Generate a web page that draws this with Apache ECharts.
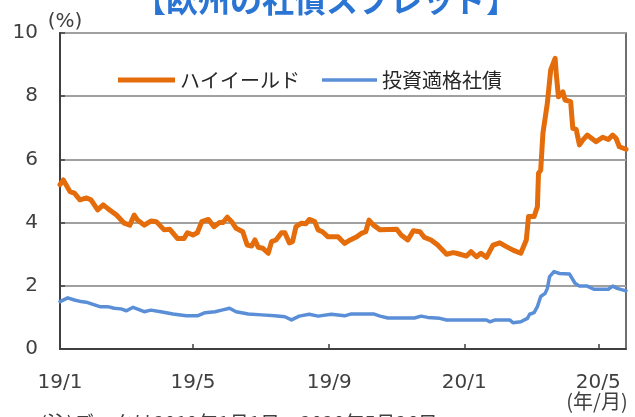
<!DOCTYPE html>
<html>
<head>
<meta charset="utf-8">
<script src="https://cdn.jsdelivr.net/npm/echarts@6/dist/echarts.min.js"></script>
<style>
  html, body { margin: 0; padding: 0; background: #fff; }
  #main { width: 635px; height: 417px; }
</style>
</head>
<body>
<div id="main"></div>
<script>
// ハイイールド（%）
var hyDates = ['2019-01-01','2019-01-04','2019-01-10','2019-01-14','2019-01-19','2019-01-25','2019-01-29',
  '2019-02-04','2019-02-09','2019-02-13','2019-02-21','2019-02-28','2019-03-05','2019-03-09','2019-03-12',
  '2019-03-18','2019-03-24','2019-03-29','2019-04-05','2019-04-10','2019-04-17','2019-04-23','2019-04-26',
  '2019-05-01','2019-05-05','2019-05-09','2019-05-15','2019-05-20','2019-05-25','2019-05-28','2019-06-01',
  '2019-06-05','2019-06-09','2019-06-15','2019-06-19','2019-06-23','2019-06-26','2019-06-29','2019-07-03',
  '2019-07-08','2019-07-11','2019-07-15','2019-07-20','2019-07-23','2019-07-27','2019-07-30','2019-08-02',
  '2019-08-07','2019-08-11','2019-08-14','2019-08-19','2019-08-22','2019-08-26','2019-08-31','2019-09-09',
  '2019-09-15','2019-09-20','2019-09-26','2019-09-30','2019-10-04','2019-10-07','2019-10-11','2019-10-17',
  '2019-11-01','2019-11-05','2019-11-11','2019-11-16','2019-11-22','2019-11-26','2019-12-02','2019-12-08',
  '2019-12-16','2019-12-22','2019-12-25','2020-01-03','2020-01-07','2020-01-12','2020-01-16','2020-01-21',
  '2020-01-27','2020-02-02','2020-02-08','2020-02-14','2020-02-21','2020-02-26','2020-02-28','2020-03-04',
  '2020-03-07','2020-03-08','2020-03-10','2020-03-12','2020-03-16','2020-03-19','2020-03-23','2020-03-24',
  '2020-03-26','2020-03-30','2020-04-01','2020-04-06','2020-04-08','2020-04-11','2020-04-14','2020-04-17',
  '2020-04-21','2020-04-29','2020-05-05','2020-05-10','2020-05-14','2020-05-17','2020-05-20','2020-05-26'];
var hyValues = [5.2,5.35,4.98,4.93,4.72,4.78,4.72,
  4.4,4.56,4.45,4.24,3.98,3.92,4.24,4.08,
  3.92,4.05,4.03,3.77,3.79,3.5,3.5,3.68,
  3.61,3.68,4.03,4.1,3.87,4.0,4.0,4.17,
  4.03,3.82,3.71,3.29,3.26,3.45,3.22,3.19,
  3.03,3.4,3.45,3.68,3.68,3.36,3.4,3.87,
  3.98,3.96,4.1,4.03,3.77,3.71,3.55,3.55,
  3.34,3.45,3.55,3.66,3.71,4.08,3.92,3.77,
  3.79,3.61,3.45,3.74,3.71,3.53,3.45,3.29,
  3.0,3.05,3.03,2.94,3.08,2.92,3.03,2.9,
  3.29,3.36,3.24,3.13,3.03,3.45,4.19,4.19,
  4.5,5.56,5.66,6.83,7.78,8.83,9.2,8.72,
  7.98,8.14,7.88,7.83,6.98,6.95,6.46,6.61,
  6.77,6.56,6.7,6.63,6.77,6.67,6.4,6.32];

// 投資適格社債（%）
var igDates = ['2019-01-01','2019-01-08','2019-01-14','2019-01-20','2019-01-26','2019-02-06','2019-02-13',
  '2019-02-19','2019-02-25','2019-03-02','2019-03-08','2019-03-18','2019-03-24','2019-04-02','2019-04-13',
  '2019-04-25','2019-05-05','2019-05-12','2019-05-21','2019-05-27','2019-06-03','2019-06-09','2019-06-20',
  '2019-07-02','2019-07-14','2019-07-23','2019-07-29','2019-08-05','2019-08-14','2019-08-22','2019-09-03',
  '2019-09-15','2019-09-21','2019-10-11','2019-10-17','2019-10-24','2019-11-17','2019-11-23','2019-11-29',
  '2019-12-10','2019-12-16','2020-01-21','2020-01-24','2020-01-29','2020-02-11','2020-02-14','2020-02-21',
  '2020-02-27','2020-02-29','2020-03-04','2020-03-07','2020-03-10','2020-03-14','2020-03-16','2020-03-18',
  '2020-03-22','2020-03-27','2020-04-05','2020-04-10','2020-04-14','2020-04-21','2020-04-27','2020-05-10',
  '2020-05-14','2020-05-18','2020-05-26'];
var igValues = [1.5,1.62,1.55,1.5,1.47,1.34,1.34,
  1.29,1.27,1.21,1.32,1.18,1.23,1.18,1.11,
  1.05,1.05,1.15,1.18,1.23,1.29,1.18,1.11,
  1.08,1.05,1.02,0.92,1.04,1.1,1.04,1.1,
  1.05,1.11,1.11,1.04,0.98,0.98,1.04,1.0,
  0.97,0.92,0.92,0.86,0.92,0.92,0.83,0.86,
  0.97,1.1,1.15,1.34,1.66,1.76,1.92,2.29,
  2.45,2.39,2.37,2.08,1.99,1.99,1.89,1.89,
  1.99,1.92,1.84];

var tickDates = ['2019-01-01','2019-05-01','2019-09-01','2020-01-01','2020-05-01'];
var tickLabels = ['19/1','19/5','19/9','20/1','20/5'];
var startDate = '2019-01-01';
var endDate = '2020-05-26';

function dayIndex(s) {
  var p = s.split('-');
  return (Date.UTC(+p[0], +p[1] - 1, +p[2]) - Date.UTC(2019, 0, 1)) / 86400000;
}
function pairs(dates, values) {
  var out = [];
  for (var i = 0; i < dates.length; i++) {
    out.push([dayIndex(dates[i]), values[i]]);
  }
  return out;
}
var tickPos = tickDates.map(dayIndex);

var myChart = echarts.init(document.getElementById('main'));
var numFont = 'DejaVu Sans';
var jpFont = 'Noto Sans CJK JP';
var legendText = { fontFamily: jpFont, fontSize: 20, color: '#262626' };
var option = {
  animation: false,
  grid: {
    left: 60, right: 9, top: 33, bottom: 68,
    show: true, borderColor: '#404040', borderWidth: 1.5
  },
  legend: [
    {
      left: 113, top: 65, icon: 'rect',
      itemWidth: 57, itemHeight: 5,
      textStyle: legendText,
      data: ['ハイイールド']
    },
    {
      left: 317, top: 65, icon: 'rect',
      itemWidth: 55, itemHeight: 3.5,
      textStyle: legendText,
      data: ['投資適格社債']
    }
  ],
  xAxis: {
    type: 'value',
    min: dayIndex(startDate),
    max: dayIndex(endDate),
    splitLine: { show: false },
    axisLine: { lineStyle: { color: '#404040', width: 2 } },
    axisTick: {
      inside: true, length: 5, customValues: tickPos,
      lineStyle: { color: '#404040', width: 1.5 }
    },
    axisLabel: {
      customValues: tickPos,
      margin: 24,
      fontFamily: numFont, fontSize: 20, color: '#404040',
      formatter: function (v) {
        var i = tickPos.indexOf(v);
        return i >= 0 ? tickLabels[i] : '';
      }
    }
  },
  yAxis: {
    type: 'value',
    min: 0, max: 10, interval: 2,
    splitLine: { lineStyle: { color: '#a0a0a0', width: 2 } },
    axisLine: { show: true, lineStyle: { color: '#404040', width: 2 } },
    axisTick: { show: true, inside: true, length: 5, lineStyle: { color: '#404040', width: 1.5 } },
    axisLabel: { margin: 22, fontFamily: numFont, fontSize: 20, color: '#404040' }
  },
  graphic: [
    {
      type: 'text', x: 326, y: 0,
      style: {
        text: '【欧州の社債スプレッド】', fill: '#2a75d3',
        font: 'bold 32px "Noto Sans CJK JP"', align: 'center', verticalAlign: 'middle'
      }
    },
    {
      type: 'text', x: 65, y: 22,
      style: { text: '(%)', fill: '#404040', font: '20px "DejaVu Sans"', align: 'center', verticalAlign: 'middle' }
    },
    {
      type: 'text', x: 597, y: 401,
      style: { text: '(年/月)', fill: '#404040', font: '20px "Noto Sans CJK JP"', align: 'center', verticalAlign: 'middle' }
    },
    {
      type: 'text', x: 40, y: 413,
      style: { text: '(注)データは2019年1月1日～2020年5月26日。', fill: '#404040', font: '20px "Noto Sans CJK JP"', align: 'left', verticalAlign: 'top' }
    }
  ],
  series: [
    {
      name: 'ハイイールド',
      type: 'line',
      symbol: 'none',
      z: 3,
      lineStyle: { color: '#e46c0a', width: 5, join: 'round', cap: 'round' },
      itemStyle: { color: '#e46c0a' },
      data: pairs(hyDates, hyValues)
    },
    {
      name: '投資適格社債',
      type: 'line',
      symbol: 'none',
      z: 2,
      lineStyle: { color: '#5a8fd8', width: 3.5, join: 'round', cap: 'round' },
      itemStyle: { color: '#5a8fd8' },
      data: pairs(igDates, igValues)
    }
  ]
};
myChart.setOption(option);
</script>
</body>
</html>
